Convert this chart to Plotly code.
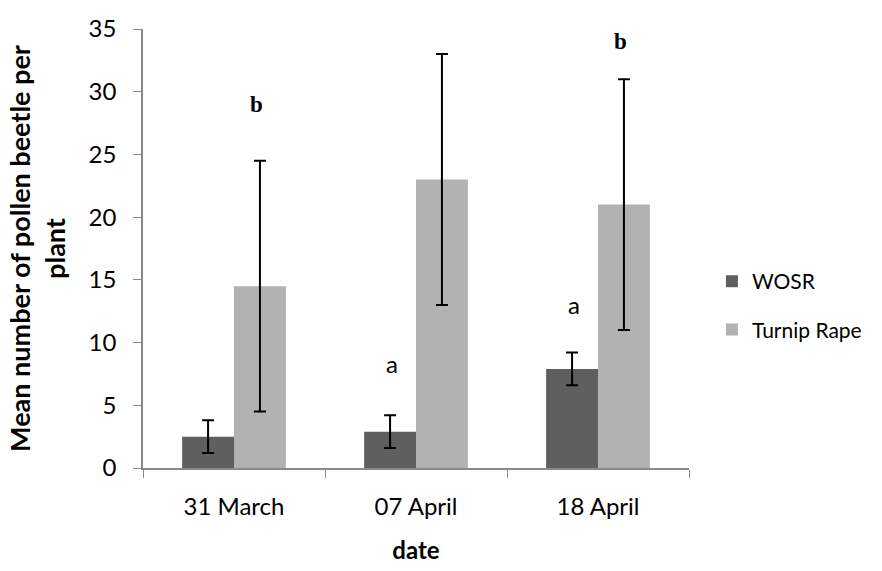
import plotly.graph_objects as go

categories = ["31 March", "07 April", "18 April"]
wosr_values = [2.5, 2.9, 7.9]
wosr_errors = [1.3, 1.3, 1.3]
turnip_values = [14.5, 23.0, 21.0]
turnip_errors = [10.0, 10.0, 10.0]
# significance letters and their heights (data units)
wosr_letters = ["", "a", "a"]
wosr_letter_y = [None, 8.3, 13.0]
turnip_letters = ["b", "b", "b"]
turnip_letter_y = [29.0, 35.1, 34.0]
y_ticks = [0, 5, 10, 15, 20, 25, 30, 35]

SANS = "Lato, 'Liberation Sans', sans-serif"

fig = go.Figure()
fig.add_trace(go.Bar(
    x=categories, y=wosr_values, name="WOSR",
    marker=dict(color="#5f5f5f", line=dict(width=0)),
    error_y=dict(type="data", array=wosr_errors, color="black", thickness=2, width=6),
    legendgroup="w",
))
fig.add_trace(go.Bar(
    x=categories, y=turnip_values, name="Turnip Rape",
    marker=dict(color="#b2b2b2", line=dict(width=0)),
    error_y=dict(type="data", array=turnip_errors, color="black", thickness=2, width=6),
    legendgroup="t",
))

annotations = []
for c, l, yv in zip(categories, wosr_letters, wosr_letter_y):
    if l:
        annotations.append(dict(x=c, y=yv, text=l, showarrow=False, xshift=-24,
                                font=dict(family=SANS, size=24, color="black")))
for c, l, yv in zip(categories, turnip_letters, turnip_letter_y):
    if l:
        annotations.append(dict(x=c, y=yv, text="<b>" + l + "</b>", showarrow=False, xshift=22,
                                font=dict(family="'Liberation Serif', serif", size=23, color="black")))

fig.update_layout(
    width=882, height=571,
    margin=dict(l=143, r=193, t=29, b=103, autoexpand=False),
    paper_bgcolor="white", plot_bgcolor="white",
    barmode="group", bargap=0.43, bargroupgap=0,
    font=dict(family=SANS, size=24, color="black"),
    showlegend=True,
    legend=dict(x=1.042, y=0.37, xanchor="left", yanchor="middle",
                font=dict(family=SANS, size=21, color="black"),
                tracegroupgap=18, traceorder="grouped", itemwidth=30),
    annotations=annotations,
)
fig.update_xaxes(
    showline=True, linecolor="#8a8a8a", linewidth=1.5,
    ticks="outside", ticklen=8, tickcolor="#8a8a8a", tickson="boundaries",
    showgrid=False, zeroline=False,
    tickfont=dict(family=SANS, size=24, color="black"),
    ticklabelstandoff=16,
    title=dict(text="<b>date</b>", font=dict(family=SANS, size=24, color="black"), standoff=24),
    automargin=False,
)
fig.update_yaxes(
    range=[0, 35], tickvals=y_ticks,
    showline=True, linecolor="#8a8a8a", linewidth=1.5,
    ticks="outside", ticklen=8, tickcolor="#8a8a8a",
    showgrid=False, zeroline=False,
    tickfont=dict(family=SANS, size=24, color="black"),
    ticklabelstandoff=12,
    title=dict(text="<b>Mean number of pollen beetle per<br>plant</b>",
               font=dict(family=SANS, size=27, color="black"), standoff=15),
    automargin=False,
)

fig.write_html("out.html")
